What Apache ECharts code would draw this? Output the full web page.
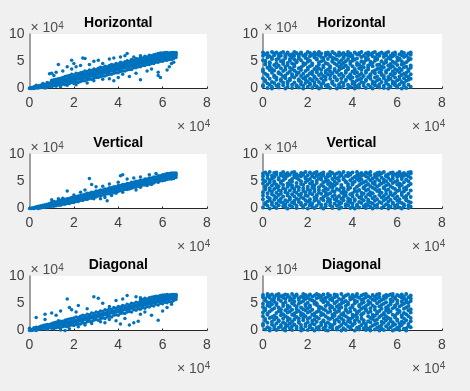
<!doctype html>
<html>
  <head>
    <meta charset="UTF-8" />
    <title>Horizontal Vertical Diagonal</title>
    <style>
      html, body { margin: 0; background: #f0f0f0; }
      #main { width: 470px; height: 391px; }
    </style>
  </head>
  <body>
    <div id="main"></div>
    <script src="https://cdn.jsdelivr.net/npm/echarts@6/dist/echarts.min.js"></script>
    <script>
      // values in thousands
      // the *Cols lists hold the y values seen in each x column (index = x)
      const xTicks = [0, 20, 40, 60, 80]
      const yTicks = [0, 50, 100]
      const titles = ['Horizontal', 'Vertical', 'Diagonal']

      const horizCols = [
        [0,1],[0,1,2],[0,2,3,1],[1,3,4,6],[1,3,5,2],[2,4,6,3],[2,5,7,4,9],[3,5,8,6,1],[3,6,9,5,11],[4,7,10,6,8],
        [3,7,9,12,15],[5,8,10,13,16],[4,9,11,13,17],[7,10,12,15,18],[5,11,13,14,19],[8,10,14,17,20],[7,12,15,17,22],[8,13,16,18,23],[9,14,17,20,24],[11,15,17,20,26],
        [9,14,18,22,25],[12,16,19,22,28],[11,17,20,24,27],[13,18,21,24,29],[14,18,22,26,30],[14,20,23,27,32],[16,20,24,27,31],[17,22,25,29,34],[17,23,26,29,33],[19,24,27,31,36],
        [20,24,28,32,35],[20,26,29,33,37],[22,27,30,34,39],[23,28,32,35,38],[23,29,33,36,41],[25,29,33,37,40],[26,31,34,38,42],[26,32,36,39,44],[28,33,36,40,43],[29,34,38,41,46],
        [29,35,38,42,45],[31,36,39,43,48],[32,37,41,44,47],[32,38,41,45,49],[34,39,43,46,51],[35,40,44,47,50],[35,41,44,48,53],[38,42,46,49,52],[38,43,46,50,55],[40,44,48,51,54],
        [40,45,48,52,57],[42,46,50,53,56],[42,47,50,54,59],[44,48,52,55,58],[44,49,52,56,61],[46,50,54,57,60],[46,51,54,58,62],[48,52,56,59,63],[48,53,56,60,64],[50,54,58,61,65],
        [50,55,58,61,63,65],[52,56,59,62,64,66],[52,57,60,62,64,66],[53,58,60,62,64,65],[53,58,61,63,65,66],[55,59,61,63,65,66],[57,60,62,64,65,66]
      ]
      const horizExtra = [
        [12,30],[10,28],[9,27],[11,24],[13,44],[15,32],[17,40],[19,36],[20,46],[21,40],[19,52],[24,56],[25,55],[23,42],[27,44],[29,50],[31,52],[33,46],[36,54],[38,56],[41,58],[43,60],[44,64],[47,58],[50,60],[8,2],[14,3],[17,6],[21,7],[26,10],[29,14],[33,17],[36,18],[38,14],[40,20],[42,26],[45,22],[50,16],[48,28],[53,32],[55,36],[58,30],[58,24],[59,20],[62,34],[63,40],[64,46],[65,48]
      ]
      const vertCols = [
        [0],[0,1],[0,1,2],[1,2,3],[0,2,4],[1,3,5],[2,4,6],[2,5,7],[3,6,8],[3,6,9],
        [4,7,10,11],[4,8,11,13],[5,9,11,12],[6,10,13,14],[6,10,12,15],[8,11,14,16],[8,12,14,17],[9,13,16,18],[9,14,16,19],[11,15,18,20],
        [11,16,18,21],[13,17,20,22],[13,18,19,23],[15,19,22,24],[15,20,21,25],[17,21,24,26],[17,22,23,28],[19,23,26,28],[19,24,25,30],[21,25,28,30],
        [21,26,27,32],[23,27,30,32],[23,28,29,34],[25,29,32,34],[25,30,31,36],[27,31,34,36],[27,32,33,38],[29,33,36,38],[29,34,35,40],[31,35,38,40],
        [31,36,37,42],[33,37,40,42],[33,38,39,44],[35,39,42,44],[35,40,41,46],[37,41,44,46],[37,42,43,48],[39,43,46,48],[39,44,45,50],[41,45,48,50],
        [41,46,47,52],[43,47,50,52],[43,48,49,54],[45,49,52,54],[45,50,51,56],[47,51,54,56],[47,52,53,58],[49,53,56,58],[49,54,55,60],[51,55,58,60],
        [51,56,58,60,62],[52,57,59,61,63],[53,58,60,62,64],[54,59,61,63,64],[54,58,60,62,65],[55,59,61,63,65],[57,60,62,64,65]
      ]
      const vertExtra = [
        [10,16],[13,18],[15,19],[17,32],[20,25],[23,30],[25,34],[27,55],[28,44],[30,40],[33,41],[36,45],[40,48],[41,60],[42,62],[44,54],[47,56],[50,58],[54,62],[57,64],[24,15],[26,17],[29,18],[32,18],[34,20],[35,14],[37,24],[39,28],[42,30],[45,36],[48,34],[50,39],[53,42],[55,44],[58,48]
      ]
      const diagCols = [
        [0,4],[0,2],[1,3,5],[0,3,6],[2,4,6],[3,5,8],[3,6,9],[4,7,10],[3,6,8,11],[5,8,11],
        [4,7,10,13],[3,8,11,14],[5,9,11,15],[6,10,12,16],[5,10,13,17],[7,11,14,17],[8,12,15,19],[7,12,15,20],[9,13,16,21],[10,14,17,22],
        [9,15,18,23],[11,16,19,25],[12,17,20,24],[12,18,21,26],[14,18,22,28],[13,20,23,27],[16,20,24,30],[17,22,25,29],[16,23,26,32],[19,24,27,31],
        [20,24,28,34],[19,26,29,33],[22,27,30,36],[23,28,31,35],[22,29,32,38],[25,29,33,37],[26,31,34,40],[25,32,35,39],[28,33,36,42],[29,34,37,41],
        [28,35,38,44],[31,36,39,43],[32,37,40,46],[31,38,41,45],[34,39,42,48],[35,40,43,47],[34,41,44,50],[38,42,45,49],[37,43,46,52],[40,44,47,51],
        [39,45,48,53,56],[42,46,49,52,57],[41,47,50,55,59],[44,48,51,54,58],[43,49,52,57,60],[46,50,53,56,61],[45,51,54,58,62],[48,52,55,59,63],[47,53,56,60,63],[50,54,57,61,64],
        [49,55,58,61,63,65],[52,56,59,62,64,65],[51,57,60,62,64,66],[53,58,60,62,64,65],[52,58,61,63,65,66],[55,59,61,63,65,66],[57,60,62,64,65,66]
      ]
      const diagExtra = [
        [3,24],[7,20],[7,30],[10,32],[12,28],[14,36],[13,18],[17,58],[18,42],[19,38],[21,34],[22,46],[26,40],[29,62],[31,59],[33,50],[36,44],[39,55],[42,58],[44,64],[48,62],[50,60],[8,2],[14,1],[16,0],[18,3],[22,7],[25,10],[28,13],[32,16],[34,14],[36,20],[39,18],[41,12],[45,10],[47,14],[49,17],[43,22],[50,30],[52,34],[55,28],[58,19],[60,36],[62,42],[64,48]
      ]

      const horizFlatCols = [
        [4,6,19,31,35,52,60,66],[13,15,27,44,49,51,63],[1,9,23,25,38,57,62,65],[7,18,34,41,46,48,59],[0,3,12,29,36,54,56,67],[10,21,24,33,43,61,64],[5,16,20,39,47,53,66],[2,8,28,30,42,55,58,63],[14,17,26,37,50,60,65],[6,11,22,32,45,49,52,67],
        [0,19,24,35,40,56,59,62],[3,9,13,28,43,47,64,66],[15,18,31,38,51,54,61],[1,7,22,26,36,46,57,63],[11,20,33,41,44,53,60,67],[4,6,25,30,48,50,65],[2,14,17,29,37,55,58,62],[8,12,23,34,39,52,64,66],[0,5,19,27,42,47,60],[10,16,21,32,45,56,61,63],
        [3,13,24,35,38,49,54,67],[7,9,18,28,41,51,59,65],[1,15,26,31,43,46,62],[6,11,20,22,36,57,60,66],[4,17,30,33,40,53,55,63],[0,12,25,37,44,48,61,67],[2,8,19,27,34,50,58,64],[10,14,23,39,42,52,56],[5,16,21,29,32,47,60,65],[3,7,26,35,45,54,63,66],
        [1,18,24,31,38,41,59,62],[9,11,13,28,49,51,57,67],[6,20,22,33,36,46,55,64],[0,15,17,30,43,53,61],[4,8,25,34,40,48,60,66],[2,12,19,27,37,44,52,63],[5,10,23,39,47,56,58,65],[14,16,29,32,42,50,62],[1,7,21,35,38,54,61,67],[3,18,24,26,45,49,59,64],
        [9,13,20,31,41,51,57,60],[0,6,11,28,33,36,53,66],[4,15,22,30,43,47,55,63],[2,8,17,25,37,44,62,65],[12,19,27,34,40,50,58,67],[5,10,23,39,46,48,60],[1,14,16,29,32,52,56,64],[7,21,35,38,42,54,61,66],[3,18,24,26,45,49,63],[0,9,13,31,41,47,59,65],
        [6,11,20,28,33,51,57,67],[4,15,22,36,43,53,55,62],[2,8,17,30,37,44,60,64],[12,25,27,34,40,50,66],[1,5,19,23,39,46,58,63],[10,14,29,32,48,52,61,65],[0,7,16,21,35,42,56,67],[3,18,26,38,45,54,60],[9,13,24,31,41,49,59,64],[6,11,20,28,36,47,62,66],
        [2,4,15,33,43,51,57],[8,17,22,30,37,53,55,63],[0,12,25,34,44,50,61,67],[5,10,19,27,39,46,58,65],[1,14,23,29,40,48,60],[7,16,21,32,35,52,56,64],[3,18,26,38,42,54,62,66]
      ]
      const vertFlatCols = [
        [2,17,24,30,46,53,59,64],[8,10,35,39,41,50,66],[5,13,21,28,44,56,61,63],[0,15,19,33,37,48,52,67],[7,11,26,31,42,55,60],[3,16,23,36,46,50,58,65],[1,9,20,29,39,44,62,66],[6,14,25,34,41,53,56],[12,18,27,32,47,49,61,64],[4,10,22,37,43,52,59,67],
        [2,8,15,30,35,55,57,63],[0,13,24,28,40,46,60,65],[6,17,20,33,44,51,62],[3,11,26,38,42,49,54,66],[9,14,22,31,36,58,61,67],[1,5,18,29,41,47,56,63],[12,16,25,34,39,53,60],[7,10,21,27,45,50,59,65],[2,4,19,32,37,43,62,64],[8,15,24,30,48,55,57,67],
        [0,13,23,35,40,52,61],[6,11,17,28,33,46,54,66],[3,9,26,38,44,49,59,63],[1,14,20,31,36,42,57,65],[5,16,22,25,47,51,60,67],[10,12,29,34,39,55,62],[2,7,18,27,43,53,58,64],[0,15,21,33,41,48,61,66],[4,8,24,30,37,50,56],[13,19,26,35,45,52,59,63],
        [6,11,16,28,40,47,60,67],[1,3,22,32,38,44,54,65],[9,17,25,31,42,49,57,62],[5,14,20,36,46,55,64],[0,7,12,23,34,51,58,66],[2,10,18,29,39,43,61,63],[15,21,27,33,37,53,56,67],[4,8,24,30,48,50,60],[6,13,19,35,41,45,59,65],[1,11,16,26,38,52,62,64],
        [3,9,22,28,44,47,55,66],[0,14,17,32,36,49,58],[5,7,25,31,40,54,61,67],[2,12,20,34,43,51,57,63],[10,18,23,29,46,53,60,65],[4,15,27,37,39,48,62],[1,8,21,33,42,50,59,66],[6,13,16,26,35,45,56,64],[3,11,24,30,41,52,61,67],[0,9,19,28,38,47,55],
        [5,14,22,36,44,49,58,63],[2,7,17,32,40,54,60,65],[12,25,31,34,43,51,62,66],[1,10,20,29,46,57,64],[4,15,23,37,39,48,53,67],[8,18,27,33,42,50,59,61],[0,6,13,21,35,45,56,63],[3,16,26,30,41,52,65],[9,11,24,38,47,55,60,66],[1,5,19,28,36,49,62],
        [7,14,22,32,44,51,58,64],[2,12,17,34,40,46,61,67],[0,10,25,29,43,54,57,63],[4,8,20,31,37,48,60,65],[15,18,23,35,39,53,62],[1,6,13,27,42,50,59,66],[3,11,21,33,45,56,64,67]
      ]
      const diagFlatCols = [
        [9,12,26,33,43,49,61,65],[2,18,21,37,40,55,58],[6,14,29,31,46,52,63,67],[0,4,23,35,44,51,60,64],[11,16,25,38,48,56,66],[3,8,20,27,41,53,59,62],[1,13,24,32,47,50,65],[5,17,19,36,42,57,61,67],[7,10,28,34,39,54,63],[2,15,22,30,45,49,60,64],
        [0,6,12,26,37,52,58,66],[9,18,24,33,41,46,62,65],[4,13,21,35,43,55,61],[1,8,16,29,38,50,57,67],[11,20,27,31,47,53,60,63],[3,7,25,34,40,44,64,66],[14,17,22,36,49,56,59],[0,5,10,28,32,42,52,62],[2,19,23,30,39,54,61,67],[8,12,26,37,45,48,58,65],
        [1,15,21,33,41,51,60,63],[6,9,24,35,43,46,57,66],[3,13,18,29,38,55,62],[0,11,20,27,31,49,53,64],[5,16,25,34,47,50,59,67],[2,7,22,36,40,44,61,65],[10,14,28,32,42,56,63],[4,17,19,30,39,52,58,66],[1,8,12,26,37,45,54,60],[0,15,23,33,48,51,62,67],
        [6,11,21,35,41,46,57,64],[3,9,24,29,43,55,59],[13,18,27,31,38,50,61,66],[2,5,20,34,44,53,63,65],[7,16,25,36,40,47,58],[0,10,22,30,42,49,56,67],[4,14,19,28,32,52,60,62],[1,12,26,37,39,45,54,64],[8,17,23,33,48,51,66],[3,6,15,21,35,41,57,61],
        [9,11,24,29,43,46,59,65],[0,13,18,27,38,50,55,63],[5,20,25,31,34,53,62,67],[2,7,16,36,44,47,60],[10,22,28,30,40,49,56,64],[4,14,19,32,42,52,58,66],[1,8,12,37,39,45,61,67],[3,17,26,33,48,54,63],[0,6,15,23,35,41,51,60],[9,21,24,29,46,57,65],
        [2,11,18,27,38,43,55,62],[5,13,20,31,34,50,59,66],[0,7,25,36,44,53,61,67],[4,10,16,28,40,47,56],[1,14,22,30,32,49,58,63],[8,19,26,37,42,52,60,65],[3,12,23,33,39,45,64],[6,17,21,35,48,51,57,66],[0,9,15,29,41,54,62,67],[2,11,24,27,43,46,59,61],
        [5,18,20,31,38,50,55,65],[1,7,13,34,36,44,63],[10,16,25,28,47,53,60,66],[3,14,22,32,40,49,58,62],[0,4,19,30,42,52,56,67],[8,12,26,37,45,51,61],[6,17,23,33,39,54,59,64]
      ]

      // x is the list index, each column gives one point per y
      const toPoints = cols => cols.flatMap((ys, x) => ys.map(y => [x, y]))

      const panelData = [
        toPoints(horizCols).concat(horizExtra), toPoints(horizFlatCols),
        toPoints(vertCols).concat(vertExtra), toPoints(vertFlatCols),
        toPoints(diagCols).concat(diagExtra), toPoints(diagFlatCols)
      ]
      const rowTops = [34, 154, 276]
      const plotHeight = 54.5
      const colLefts = [29.5, 263]
      const colWidths = [177.5, 179]

      const grid = [], xAxis = [], yAxis = [], series = [], title = []
      const expRich = {
        a: { fontFamily: 'Liberation Sans', fontSize: 14, fontWeight: 'normal', color: '#505050' },
        b: { fontFamily: 'Liberation Sans', fontSize: 10, fontWeight: 'normal', color: '#505050', verticalAlign: 'top', padding: [0, 0, 5, 0] }
      }
      const expText = '{a|× 10}{b|4}'

      panelData.forEach((data, i) => {
        const row = Math.floor(i / 2)
        const col = i % 2
        const top = rowTops[row]
        const left = colLefts[col]
        grid.push({ left, top, width: colWidths[col], height: plotHeight, backgroundColor: '#fff', show: true, borderWidth: 0 })
        xAxis.push({
          gridIndex: i, type: 'value', min: 0, max: 80, interval: 20,
          axisLine: { lineStyle: { color: '#262626', width: 1 } },
          axisTick: { inside: true, length: 2, lineStyle: { color: '#262626' } },
          axisLabel: { color: '#404040', fontFamily: 'Liberation Sans', fontSize: 14, margin: 8, formatter: v => xTicks.includes(v) ? v / 10 : '' },
          splitLine: { show: false }
        })
        yAxis.push({
          gridIndex: i, type: 'value', min: 0, max: 100, interval: 50,
          axisLine: { show: true, lineStyle: { color: '#808080', width: 1.5 } },
          axisTick: { show: false },
          axisLabel: { color: '#404040', fontFamily: 'Liberation Sans', fontSize: 14, margin: 5, formatter: v => yTicks.includes(v) ? v / 10 : '' },
          splitLine: { show: false }
        })
        series.push({
          type: 'scatter', xAxisIndex: i, yAxisIndex: i, data,
          symbolSize: col ? 4 : 3.5,
          itemStyle: { color: '#0072BD', opacity: 1 },
          silent: true, clip: false
        })
        title.push({
          text: titles[row], left: left + colWidths[col] / 2 - (col ? 1 : 0), top: top - 18, textAlign: 'center',
          textStyle: { fontFamily: 'Liberation Sans', fontSize: 14, fontWeight: 'bold', color: '#000' }, padding: 0
        })
        title.push({
          text: expText, left: left + 1, top: top - 13, padding: 0,
          textStyle: { rich: expRich }
        })
        title.push({
          text: expText, left: left + colWidths[col] - 30, top: top + plotHeight + 31, padding: 0,
          textStyle: { rich: expRich }
        })
      })

      const myChart = echarts.init(document.querySelector('#main'), null, { renderer: 'canvas' })
      myChart.setOption({ animation: false, backgroundColor: '#f0f0f0', title, grid, xAxis, yAxis, series })
    </script>
  </body>
</html>
